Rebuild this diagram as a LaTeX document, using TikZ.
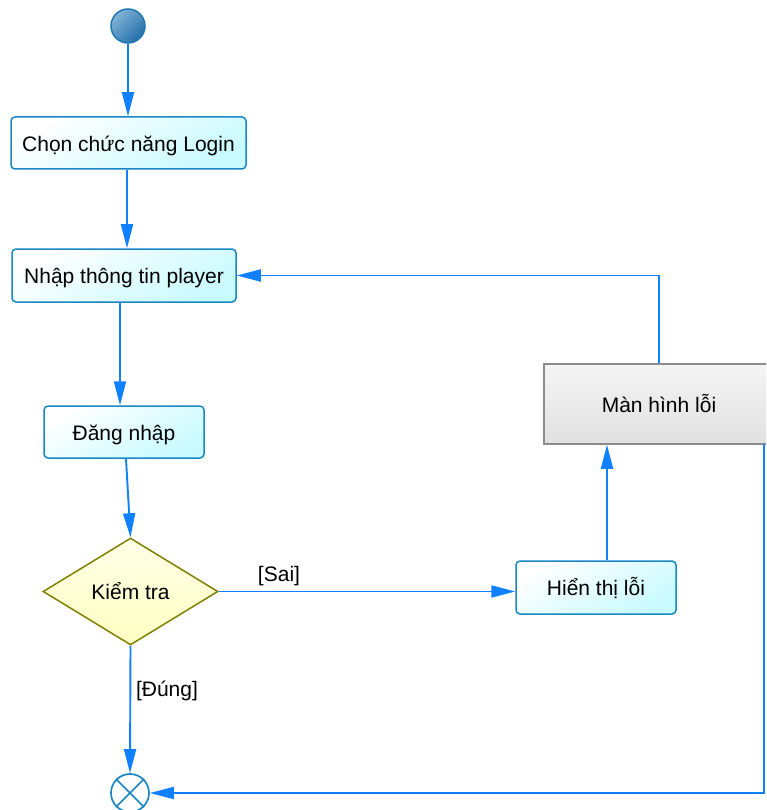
\documentclass[tikz,border=0pt]{standalone}
\usepackage{fontspec}
\setmainfont{Liberation Sans}
\usetikzlibrary{shapes.geometric,arrows.meta,calc}
\definecolor{lineblue}{RGB}{15,128,255}
\definecolor{boxborder}{RGB}{25,135,195}
\definecolor{boxfill}{RGB}{200,250,255}
\definecolor{diafill}{RGB}{255,255,195}
\definecolor{diaborder}{RGB}{128,128,0}
\definecolor{grayborder}{RGB}{140,140,140}
\tikzset{
  actbox/.style={draw=boxborder, line width=1.5pt, rounded corners=4pt,
    top color=white, bottom color=boxfill, shading angle=30,
    inner sep=0pt, text height=16.5pt, text depth=0pt, font=\fontsize{21}{24}\selectfont},
  decbox/.style={diamond, draw=diaborder, line width=1.5pt,
    top color=diafill!40!white, bottom color=diafill, inner sep=0pt,
    minimum width=175pt, minimum height=107pt, aspect=1.635,
    text height=16.5pt, text depth=0pt, font=\fontsize{21}{24}\selectfont},
  errbox/.style={draw=grayborder, line width=1.5pt, top color=white!96!black,
    bottom color=white!88!black, inner sep=0pt, text height=16pt, text depth=0pt,
    font=\fontsize{21}{24}\selectfont},
  arr/.style={draw=lineblue, line width=1.9pt, -{Triangle[length=24pt,width=12pt]}},
  lbl/.style={font=\fontsize{21}{24}\selectfont, inner sep=0pt}
}
\begin{document}
\begin{tikzpicture}[x=1pt,y=-1pt]
\useasboundingbox (0,0) rectangle (766,810);
\clip (0,0) rectangle (766,810);
% start node
\node (s) [circle, draw={rgb,255:red,30;green,120;blue,180}, line width=1.5pt, minimum size=34pt, inner sep=0pt,
  left color={rgb,255:red,130;green,180;blue,215}, right color={rgb,255:red,35;green,110;blue,170}, shading angle=45] at (128,26) {};
% action nodes
\node (b1) [actbox, minimum width=235pt, minimum height=52pt] at (128.5,143) {Chọn chức năng Login};
\node (b2) [actbox, minimum width=224pt, minimum height=53pt] at (124,275.5) {Nhập thông tin player};
\node (b3) [actbox, minimum width=160pt, minimum height=52pt] at (124,432) {Đăng nhập};
\node (d) [decbox] at (130.5,591.5) {Kiểm tra};
\node (err) [actbox, minimum width=160pt, minimum height=53pt] at (596,587.5) {Hiển thị lỗi};
\node (man) [errbox, minimum width=230pt, minimum height=80pt] at (659,404) {Màn hình lỗi};
% final node
\node (f) [circle, draw=boxborder, line width=1.7pt, fill=white, minimum size=38pt, inner sep=0pt] at (130,793) {};
\draw[boxborder, line width=1.7pt] (f.north west) -- (f.south east) (f.north east) -- (f.south west);
\coordinate (mr) at (764,444);
% connectors
\draw[arr] (s.south) -- (s.south |- b1.north);
\draw[arr] ([xshift=-1.5pt]b1.south) -- ([xshift=-1.5pt]b1.south |- b2.north);
\draw[arr] ([xshift=-4pt]b2.south) -- ([xshift=-4pt]b3.north);
\draw[arr] ([xshift=2pt]b3.south) -- (d.north);
\draw[arr] (d.east) -- (d.east -| err.west);
\node[lbl] (sai) at (279,576) {[Sai]};
\draw[arr] ([xshift=11pt]err.north) -- ([xshift=11pt]err.north |- man.south);
\draw[arr] (man.north) |- (b2.east);
\draw[arr] (d.south) -- (f.north);
\node[lbl] (dung) at (167,691) {[Đúng]};
\draw[arr] (mr) |- (f.east);
\end{tikzpicture}
\end{document}
